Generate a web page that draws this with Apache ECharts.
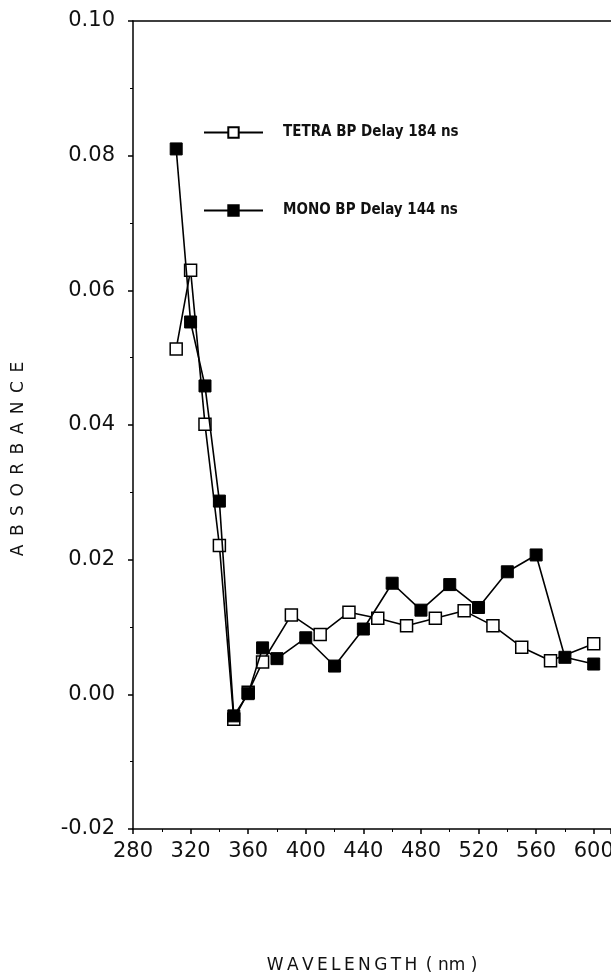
<!DOCTYPE html>
<html lang="en">
    <head>
        <meta charset="UTF-8" />
        <title>Absorbance vs wavelength</title>
        <script src="https://cdn.jsdelivr.net/npm/echarts@6/dist/echarts.min.js"></script>
        <style>
            html, body { margin: 0; padding: 0; background: #fff; }
            #chart { width: 611px; height: 976px; }
        </style>
    </head>
    <body>
        <div id="chart"></div>
        <script>
            // wavelengths (nm) and absorbance
            var tetraWave = [310, 320, 330, 340, 350, 360, 370, 390, 410, 430, 450, 470, 490, 510, 530, 550, 570, 600];
            var tetraAbs = [0.0513, 0.0630, 0.0401, 0.0221, -0.0037, 0.0003, 0.0048, 0.0118, 0.0089, 0.0122, 0.0113, 0.0102, 0.0113, 0.0124, 0.0102, 0.0070, 0.0050, 0.0075];

            var monoWave = [310, 320, 330, 340, 350, 360, 370, 380, 400, 420, 440, 460, 480, 500, 520, 540, 560, 580, 600];
            var monoAbs = [0.0810, 0.0553, 0.0458, 0.0287, -0.0032, 0.0001, 0.0069, 0.0053, 0.0084, 0.0042, 0.0097, 0.0165, 0.0125, 0.0163, 0.0129, 0.0182, 0.0207, 0.0055, 0.0045];

            var tetraName = 'TETRA BP Delay 184 ns';
            var monoName = 'MONO BP Delay 144 ns';

            function pairs(xs, ys) {
                return xs.map(function (x, i) {
                    return [x, ys[i]];
                });
            }

            var legendText = {
                fontFamily: 'DejaVu Sans Condensed',
                fontWeight: 'bold',
                fontSize: 15,
                color: '#111',
                padding: [0, 0, 0, 15],
            };

            var chart = echarts.init(document.getElementById('chart'));
            var option = {
                animation: false,
                backgroundColor: '#fff',
                textStyle: { fontFamily: 'DejaVu Sans' },
                grid: { left: 133, right: 0, top: 21, bottom: 147, outerBoundsMode: 'none', containLabel: false },
                legend: [
                    {
                        data: [tetraName],
                        left: 203,
                        top: 125,
                        padding: 0,
                        itemWidth: 59,
                        itemHeight: 13,
                        textStyle: legendText,
                    },
                    {
                        data: [monoName],
                        left: 203,
                        top: 203,
                        padding: 0,
                        itemWidth: 59,
                        itemHeight: 13,
                        textStyle: legendText,
                    },
                ],
                graphic: [
                    {
                        type: 'text',
                        x: 19,
                        y: 459,
                        rotation: Math.PI / 2,
                        style: {
                            text: 'A\u2002B\u2002S\u2002O\u2002R\u2002B\u2002A\u2002N\u2002C\u2002E',
                            font: '17px "DejaVu Sans"',
                            fill: '#111',
                            align: 'center',
                            verticalAlign: 'middle',
                        },
                    },
                ],
                xAxis: [
                    {
                        type: 'value',
                        min: 280,
                        max: 612,
                        interval: 40,
                        name: 'W\u2009A\u2009V\u2009E\u2009L\u2009E\u2009N\u2009G\u2009T\u2009H\u2002( nm )',
                        nameLocation: 'middle',
                        nameGap: 128,
                        nameTextStyle: { fontSize: 17, color: '#111' },
                        axisLine: { show: true, onZero: false, lineStyle: { color: '#000', width: 1.5 } },
                        axisTick: { show: true, length: 5, lineStyle: { color: '#000', width: 1.5 } },
                        minorTick: { show: true, splitNumber: 2, length: 3, lineStyle: { color: '#000' } },
                        splitLine: { show: false },
                        axisLabel: {
                            fontSize: 21,
                            color: '#111',
                            margin: 12,
                            formatter: function (v) {
                                return v % 40 === 0 ? String(v) : '';
                            },
                        },
                    },
                    {
                        type: 'value',
                        position: 'top',
                        min: 280,
                        max: 612,
                        axisLine: { show: true, onZero: false, lineStyle: { color: '#000', width: 1.5 } },
                        axisTick: { show: false },
                        axisLabel: { show: false },
                        splitLine: { show: false },
                    },
                ],
                yAxis: {
                    type: 'value',
                    min: -0.02,
                    max: 0.1,
                    interval: 0.02,
                    axisLine: { show: true, onZero: false, lineStyle: { color: '#000', width: 1.5 } },
                    axisTick: { show: true, length: 5, lineStyle: { color: '#000', width: 1.5 } },
                    minorTick: { show: true, splitNumber: 2, length: 3, lineStyle: { color: '#000' } },
                    splitLine: { show: false },
                    axisLabel: {
                        fontSize: 21,
                        color: '#111',
                        margin: 18,
                        formatter: function (v) {
                            return v.toFixed(2);
                        },
                    },
                },
                series: [
                    {
                        name: tetraName,
                        type: 'line',
                        data: pairs(tetraWave, tetraAbs),
                        symbol: 'rect',
                        symbolSize: 12,
                        showAllSymbol: true,
                        lineStyle: { color: '#000', width: 1.6 },
                        itemStyle: { color: '#fff', borderColor: '#000', borderWidth: 1.5 },
                        z: 2,
                    },
                    {
                        name: monoName,
                        type: 'line',
                        data: pairs(monoWave, monoAbs),
                        symbol: 'rect',
                        symbolSize: 12,
                        showAllSymbol: true,
                        lineStyle: { color: '#000', width: 1.6 },
                        itemStyle: { color: '#000', borderColor: '#000', borderWidth: 1 },
                        z: 3,
                    },
                ],
            };
            chart.setOption(option);
        </script>
    </body>
</html>
